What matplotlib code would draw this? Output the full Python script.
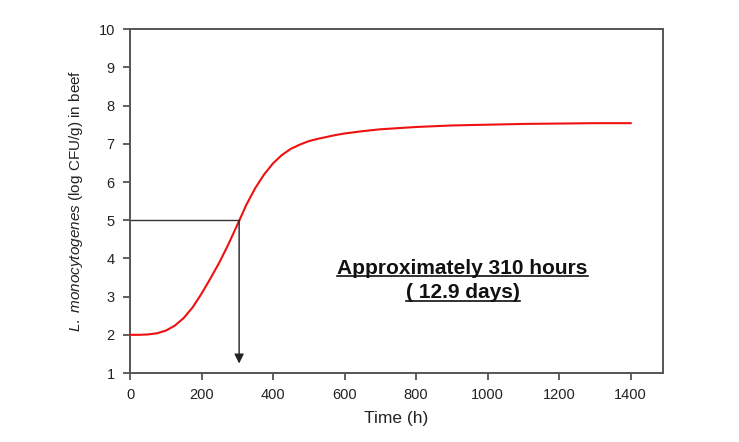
import matplotlib
matplotlib.use('Agg')
import matplotlib.pyplot as plt
from matplotlib.lines import Line2D

plt.rcParams['font.family'] = ['Liberation Sans', 'DejaVu Sans']
plt.rcParams['mathtext.fontset'] = 'custom'
plt.rcParams['mathtext.rm'] = 'Liberation Sans'
plt.rcParams['mathtext.it'] = 'Liberation Sans:italic'

# growth curve of L. monocytogenes in beef
time_h = [0, 25, 50, 75, 100, 125, 150, 175, 200, 225, 250, 275, 300, 325,
          350, 375, 400, 425, 450, 475, 500, 525, 550, 575, 600, 650, 700,
          800, 900, 1000, 1100, 1200, 1300, 1400]
log_cfu = [2.00, 2.00, 2.01, 2.04, 2.11, 2.24, 2.44, 2.72, 3.08, 3.48, 3.90,
           4.37, 4.88, 5.40, 5.84, 6.20, 6.49, 6.71, 6.87, 6.98, 7.07, 7.13,
           7.18, 7.23, 7.27, 7.33, 7.38, 7.44, 7.48, 7.50, 7.52, 7.53, 7.54,
           7.54]

t_limit = 305     # time at which the count reaches 5 log
y_limit = 5
xticks = [0, 200, 400, 600, 800, 1000, 1200, 1400]
yticks = [1, 2, 3, 4, 5, 6, 7, 8, 9, 10]
note_lines = ["Approximately 310 hours", "( 12.9 days)"]

fig = plt.figure(figsize=(7.39, 4.42), dpi=100)
ax = fig.add_axes([0.176, 0.156, 0.721, 0.778])

ax.plot(time_h, log_cfu, color='#ee1111', lw=1.5, zorder=3)

# reference lines
ax.plot([0, t_limit], [y_limit, y_limit], color='#333333', lw=1.0)
ax.annotate('', xy=(t_limit, 1.25), xytext=(t_limit, y_limit),
            arrowprops=dict(arrowstyle='-|>', color='#222222', lw=1.0,
                            mutation_scale=14, shrinkA=0, shrinkB=0))

ax.set_xlim(0, 1490)
ax.set_ylim(1, 10)
ax.set_xticks(xticks)
ax.set_yticks(yticks)
ax.tick_params(direction='out', length=5, width=1.2, color='#444444',
               labelsize=10.5, labelcolor='#222222', pad=6)
for s in ax.spines.values():
    s.set_color('#555555')
    s.set_linewidth(1.4)

ax.set_xlabel('Time (h)', fontsize=12.5, color='#222222', labelpad=6)
ax.set_ylabel(r'$\it{L.\ monocytogenes}$ (log CFU/g) in beef', fontsize=11,
              color='#222222', labelpad=10)

t1 = ax.text(930, 3.73, note_lines[0], fontsize=15, fontweight='bold',
             ha='center', va='center', color='#111111')
t2 = ax.text(930, 3.1, note_lines[1], fontsize=15, fontweight='bold',
             ha='center', va='center', color='#111111')

# underline both lines of the note
fig.canvas.draw()
r = fig.canvas.get_renderer()
for t in (t1, t2):
    bb = t.get_window_extent(r).transformed(fig.transFigure.inverted())
    fig.add_artist(Line2D([bb.x0, bb.x1], [bb.y0 + 0.004, bb.y0 + 0.004],
                          transform=fig.transFigure, color='#111111', lw=1.2))

fig.savefig('out.png', dpi=100)
